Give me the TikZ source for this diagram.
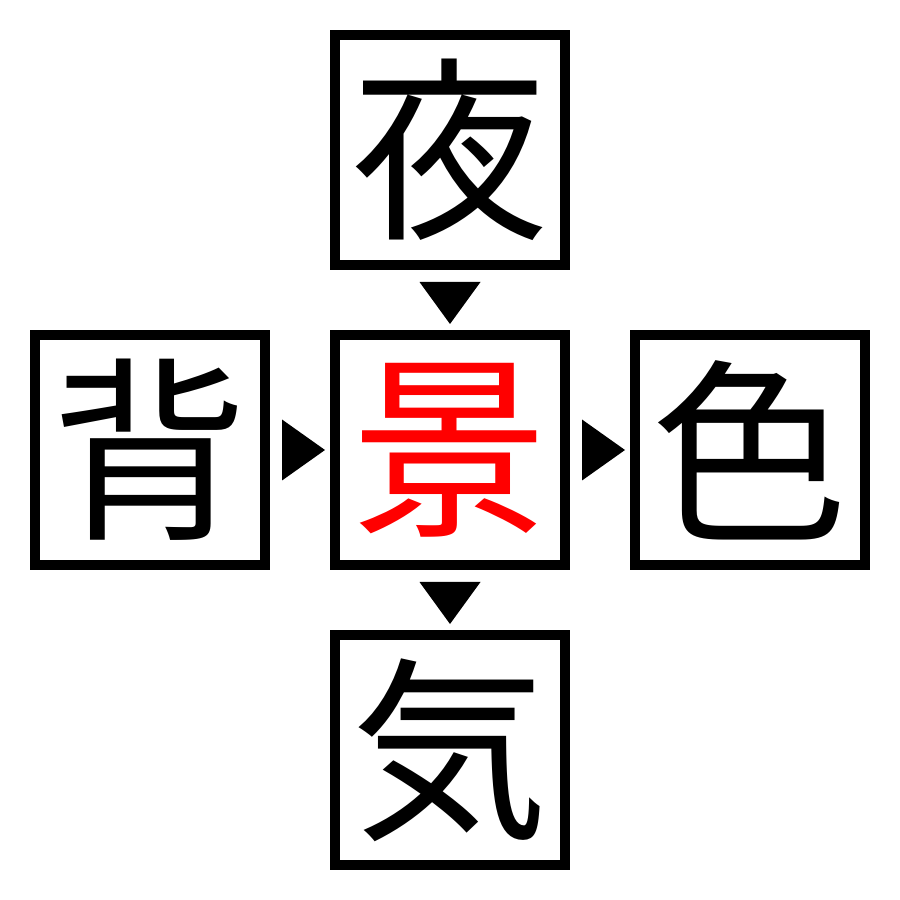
\documentclass[tikz,border=0pt]{standalone}
\usepackage{fontspec}
\newfontfamily\jpfont{Noto Sans CJK JP}
\usetikzlibrary{positioning,calc}

\begin{document}
\begin{tikzpicture}[
        kanji/.style={draw, line width=0.1cm, minimum size=2.3cm, inner sep=0pt,
            font=\jpfont\fontsize{56}{60}\selectfont}
    ]
            \useasboundingbox (0,0) rectangle (9,9);

            \node[kanji] (kei) at (4.5,4.5) {\textcolor{red}{景}};
            \node[kanji, above=0.6cm of kei] (yoru) {夜};
            \node[kanji, left=0.6cm of kei] (se) {背};
            \node[kanji, right=0.6cm of kei] (iro) {色};
            \node[kanji, below=0.6cm of kei] (ki) {気};

            \fill ($(yoru.south)!0.5!(kei.north)$) ++(-0.305,0.18) -- ++(0.61,0) -- ++(-0.305,-0.42) -- cycle;
            \fill ($(kei.south)!0.5!(ki.north)$) ++(-0.305,0.18) -- ++(0.61,0) -- ++(-0.305,-0.42) -- cycle;
            \fill ($(se.east)!0.5!(kei.west)$) ++(-0.18,0.305) -- ++(0,-0.61) -- ++(0.43,0.305) -- cycle;
            \fill ($(kei.east)!0.5!(iro.west)$) ++(-0.18,0.305) -- ++(0,-0.61) -- ++(0.43,0.305) -- cycle;
        \end{tikzpicture}
\end{document}
